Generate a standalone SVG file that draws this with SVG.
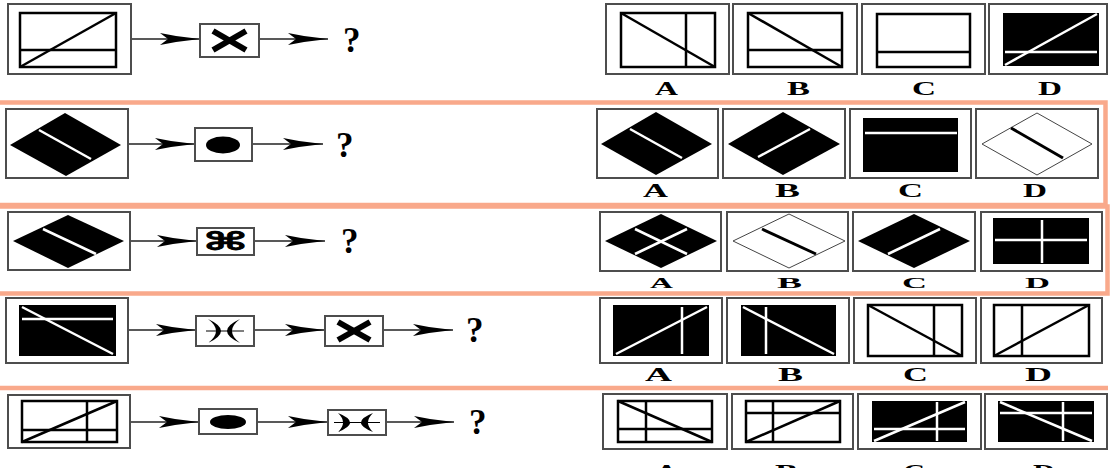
<svg xmlns="http://www.w3.org/2000/svg" width="1110" height="468" viewBox="0 0 1110 468">
<style>
.ob{fill:#fff;stroke:#4d4d4d;stroke-width:2}
.ib{fill:none;stroke:#000;stroke-width:2.5}
.bk{fill:#000}
.ln{stroke:#000;stroke-width:2.5;fill:none}
.wl{stroke:#fff;stroke-width:2.5;fill:none}
.od{fill:#fff;stroke:#444;stroke-width:1}
.cn{stroke:#222;stroke-width:1.5;marker-end:url(#arr)}
.q{font-family:"Liberation Serif",serif;font-weight:bold;font-size:35px;fill:#000}
.lb{font-family:"Liberation Serif",serif;font-weight:bold;font-size:19px;fill:#000}
.lbs{font-family:"Liberation Serif",serif;font-weight:bold;font-size:15px;fill:#000}
.fr{fill:none;stroke:#F9A98B;stroke-width:4.5}
.xs{stroke:#000;stroke-width:6}
.th{stroke:#000;stroke-width:1}
</style>
<defs>
<marker id="arr" viewBox="0 0 40 12" refX="40" refY="6" markerWidth="40" markerHeight="12" markerUnits="userSpaceOnUse" orient="auto">
<path d="M0,0 L16,3 L40,6 L16,9 L0,12 L8,6 Z" fill="#000"/>
</marker>
</defs>
<rect width="1110" height="468" fill="#fff"/>

<g id="frames">
<rect class="fr" x="-5" y="102.5" width="1110.5" height="102.5"/>
<rect class="fr" x="-5" y="206.5" width="1112.5" height="87"/>
<line class="fr" x1="0" y1="388" x2="1108" y2="388"/>
</g>

<g id="connectors">
<line class="cn" x1="131" y1="39" x2="200" y2="39"/>
<line class="cn" x1="259" y1="39" x2="328" y2="39"/>
<line class="cn" x1="128" y1="144" x2="195" y2="144"/>
<line class="cn" x1="252" y1="144" x2="323" y2="144"/>
<line class="cn" x1="130" y1="241" x2="197" y2="241"/>
<line class="cn" x1="254" y1="241" x2="325" y2="241"/>
<line class="cn" x1="128" y1="330" x2="196" y2="330"/>
<line class="cn" x1="254" y1="330" x2="325" y2="330"/>
<line class="cn" x1="383" y1="330" x2="453" y2="330"/>
<line class="cn" x1="130" y1="422" x2="199" y2="422"/>
<line class="cn" x1="257" y1="422" x2="328" y2="422"/>
<line class="cn" x1="386" y1="422" x2="454" y2="422"/>
</g>

<!-- Row 1 -->
<g id="r1-start">
<rect class="ob" x="8" y="4" width="123" height="70"/>
<rect class="ib" x="20" y="13" width="96" height="54"/>
<line class="ln" x1="20" y1="50" x2="116" y2="50"/>
<line class="ln" x1="20" y1="67" x2="116" y2="13"/>
</g>
<g id="r1-op1">
<rect class="ob" x="200" y="24" width="59" height="33"/>
<line class="xs" x1="213" y1="31" x2="246" y2="50"/>
<line class="xs" x1="213" y1="50" x2="246" y2="31"/>
</g>
<g id="r1-q"><text class="q" x="343" y="52">?</text></g>
<g id="r1-A">
<rect class="ob" x="606" y="4" width="123" height="70"/>
<rect class="ib" x="621" y="13" width="94" height="54"/>
<line class="ln" x1="686" y1="13" x2="686" y2="67"/>
<line class="ln" x1="621" y1="13" x2="715" y2="67"/>
<text class="lb" x="655" y="95" textLength="23" lengthAdjust="spacingAndGlyphs">A</text>
</g>
<g id="r1-B">
<rect class="ob" x="733" y="4" width="124" height="70"/>
<rect class="ib" x="748" y="13" width="94" height="54"/>
<line class="ln" x1="748" y1="50" x2="842" y2="50"/>
<line class="ln" x1="748" y1="13" x2="842" y2="67"/>
<text class="lb" x="787" y="95" textLength="23" lengthAdjust="spacingAndGlyphs">B</text>
</g>
<g id="r1-C">
<rect class="ob" x="862" y="4" width="123" height="70"/>
<rect class="ib" x="877" y="14" width="93" height="53"/>
<line class="ln" x1="877" y1="52" x2="970" y2="52"/>
<text class="lb" x="912" y="95" textLength="24" lengthAdjust="spacingAndGlyphs">C</text>
</g>
<g id="r1-D">
<rect class="ob" x="989" y="4" width="118" height="70"/>
<rect class="bk" x="1003" y="13" width="96" height="53"/>
<line class="wl" x1="1005" y1="52" x2="1097" y2="52"/>
<line class="wl" x1="1005" y1="65" x2="1097" y2="14"/>
<text class="lb" x="1038" y="95" textLength="24" lengthAdjust="spacingAndGlyphs">D</text>
</g>

<!-- Row 2 -->
<g id="r2-start">
<rect class="ob" x="6" y="109" width="122" height="69"/>
<polygon class="bk" points="10,145 65,113 121,145 66,176"/>
<line class="wl" x1="39" y1="130" x2="91" y2="159"/>
</g>
<g id="r2-op1">
<rect class="ob" x="195" y="128" width="57" height="33"/>
<ellipse class="bk" cx="223" cy="145" rx="17" ry="8.5"/>
</g>
<g id="r2-q"><text class="q" x="336" y="157">?</text></g>
<g id="r2-A">
<rect class="ob" x="597" y="109" width="121" height="69"/>
<polygon class="bk" points="601,144 656,112 712,144 656,175"/>
<line class="wl" x1="630" y1="129" x2="682" y2="158"/>
<text class="lb" x="643" y="197" textLength="25" lengthAdjust="spacingAndGlyphs">A</text>
</g>
<g id="r2-B">
<rect class="ob" x="723" y="109" width="122" height="69"/>
<polygon class="bk" points="728,144 783,112 840,144 783,175"/>
<line class="wl" x1="758" y1="157" x2="810" y2="129"/>
<text class="lb" x="775" y="197" textLength="25" lengthAdjust="spacingAndGlyphs">B</text>
</g>
<g id="r2-C">
<rect class="ob" x="850" y="109" width="121" height="69"/>
<rect class="bk" x="863" y="118" width="95" height="54"/>
<line class="wl" x1="865" y1="133" x2="957" y2="133"/>
<text class="lb" x="898" y="197" textLength="25" lengthAdjust="spacingAndGlyphs">C</text>
</g>
<g id="r2-D">
<rect class="ob" x="976" y="109" width="122" height="69"/>
<polygon class="od" points="982,144 1037,113 1092,144 1037,175"/>
<line class="ln" x1="1011" y1="128" x2="1063" y2="158" style="stroke-width:3"/>
<text class="lb" x="1023" y="197" textLength="24" lengthAdjust="spacingAndGlyphs">D</text>
</g>

<!-- Row 3 -->
<g id="r3-start">
<rect class="ob" x="8" y="212" width="122" height="58"/>
<polygon class="bk" points="13,241 68,215 124,241 68,268"/>
<line class="wl" x1="43" y1="229" x2="96" y2="254"/>
</g>
<g id="r3-op1">
<rect class="ob" x="197" y="228" width="57" height="27"/>
<text x="203" y="250" font-family="DejaVu Sans, sans-serif" font-weight="bold" font-size="25" textLength="45" lengthAdjust="spacingAndGlyphs" stroke="#000" stroke-width="0.8">⌘</text>
</g>
<g id="r3-q"><text class="q" x="341" y="253">?</text></g>
<g id="r3-A">
<rect class="ob" x="600" y="212" width="121" height="59"/>
<polygon class="bk" points="605,241 661,214 717,241 661,268"/>
<line class="wl" x1="635" y1="254" x2="687" y2="229"/>
<line class="wl" x1="635" y1="229" x2="687" y2="254"/>
<text class="lbs" x="650" y="288" textLength="23" lengthAdjust="spacingAndGlyphs">A</text>
</g>
<g id="r3-B">
<rect class="ob" x="727" y="212" width="121" height="59"/>
<polygon class="od" points="733,241 789,214 845,241 789,268"/>
<line class="ln" x1="762" y1="229" x2="816" y2="254" style="stroke-width:3"/>
<text class="lbs" x="777" y="288" textLength="25" lengthAdjust="spacingAndGlyphs">B</text>
</g>
<g id="r3-C">
<rect class="ob" x="853" y="212" width="122" height="59"/>
<polygon class="bk" points="858,241 914,214 970,241 914,268"/>
<line class="wl" x1="888" y1="254" x2="940" y2="229"/>
<text class="lbs" x="902" y="288" textLength="25" lengthAdjust="spacingAndGlyphs">C</text>
</g>
<g id="r3-D">
<rect class="ob" x="981" y="212" width="121" height="59"/>
<rect class="bk" x="993" y="218" width="96" height="46"/>
<line class="wl" x1="995" y1="240" x2="1087" y2="240"/>
<line class="wl" x1="1042" y1="220" x2="1042" y2="263"/>
<text class="lbs" x="1025" y="288" textLength="25" lengthAdjust="spacingAndGlyphs">D</text>
</g>

<!-- Row 4 -->
<g id="r4-start">
<rect class="ob" x="6" y="298" width="122" height="65"/>
<rect class="bk" x="19" y="305" width="97" height="51"/>
<line class="wl" x1="22" y1="319" x2="113" y2="319"/>
<line class="wl" x1="22" y1="307" x2="113" y2="354"/>
</g>
<g id="r4-op1">
<rect class="ob" x="196" y="316" width="58" height="30"/>
<line class="th" x1="206" y1="331" x2="244" y2="331"/>
<path class="bk" d="M208,319 Q234,331 208,343 Q224,331 208,319 Z"/>
<path class="bk" d="M240,319 Q214,331 240,343 Q224,331 240,319 Z"/>
</g>
<g id="r4-op2">
<rect class="ob" x="325" y="316" width="58" height="30"/>
<line class="xs" x1="338" y1="322" x2="370" y2="340"/>
<line class="xs" x1="338" y1="340" x2="370" y2="322"/>
</g>
<g id="r4-q"><text class="q" x="466" y="342">?</text></g>
<g id="r4-A">
<rect class="ob" x="600" y="298" width="122" height="65"/>
<rect class="bk" x="613" y="305" width="96" height="51"/>
<line class="wl" x1="682" y1="307" x2="682" y2="354"/>
<line class="wl" x1="616" y1="354" x2="707" y2="307"/>
<text class="lb" x="645" y="381" textLength="27" lengthAdjust="spacingAndGlyphs">A</text>
</g>
<g id="r4-B">
<rect class="ob" x="727" y="298" width="122" height="65"/>
<rect class="bk" x="741" y="305" width="95" height="51"/>
<line class="wl" x1="766" y1="307" x2="766" y2="354"/>
<line class="wl" x1="743" y1="307" x2="834" y2="354"/>
<text class="lb" x="778" y="381" textLength="25" lengthAdjust="spacingAndGlyphs">B</text>
</g>
<g id="r4-C">
<rect class="ob" x="854" y="298" width="122" height="65"/>
<rect class="ib" x="868" y="305" width="94" height="51"/>
<line class="ln" x1="934" y1="305" x2="934" y2="356"/>
<line class="ln" x1="868" y1="305" x2="962" y2="356"/>
<text class="lb" x="903" y="381" textLength="25" lengthAdjust="spacingAndGlyphs">C</text>
</g>
<g id="r4-D">
<rect class="ob" x="981" y="298" width="121" height="65"/>
<rect class="ib" x="994" y="305" width="95" height="51"/>
<line class="ln" x1="1022" y1="305" x2="1022" y2="356"/>
<line class="ln" x1="994" y1="356" x2="1089" y2="305"/>
<text class="lb" x="1025" y="381" textLength="27" lengthAdjust="spacingAndGlyphs">D</text>
</g>

<!-- Row 5 -->
<g id="r5-start">
<rect class="ob" x="8" y="395" width="122" height="53"/>
<rect class="ib" x="22" y="401" width="95" height="41"/>
<line class="ln" x1="22" y1="430" x2="117" y2="430"/>
<line class="ln" x1="87" y1="401" x2="87" y2="442"/>
<line class="ln" x1="22" y1="442" x2="117" y2="401"/>
</g>
<g id="r5-op1">
<rect class="ob" x="199" y="409" width="58" height="25"/>
<ellipse class="bk" cx="228" cy="422" rx="18" ry="7"/>
</g>
<g id="r5-op2">
<rect class="ob" x="328" y="410" width="58" height="25"/>
<line class="th" x1="334" y1="422.5" x2="380" y2="422.5"/>
<path class="bk" d="M338,413 Q362,422.5 338,432 Q348,422.5 338,413 Z"/>
<path class="bk" d="M373,413 Q349,422.5 373,432 Q363,422.5 373,413 Z"/>
</g>
<g id="r5-q"><text class="q" x="469" y="434">?</text></g>
<g id="r5-A">
<rect class="ob" x="603" y="394" width="124" height="55"/>
<rect class="ib" x="618" y="401" width="94" height="41"/>
<line class="ln" x1="618" y1="429" x2="712" y2="429"/>
<line class="ln" x1="646" y1="401" x2="646" y2="442"/>
<line class="ln" x1="618" y1="401" x2="712" y2="442"/>
<text class="lb" x="655" y="478" textLength="23" lengthAdjust="spacingAndGlyphs">A</text>
</g>
<g id="r5-B">
<rect class="ob" x="732" y="394" width="121" height="55"/>
<rect class="ib" x="746" y="401" width="94" height="41"/>
<line class="ln" x1="746" y1="413" x2="840" y2="413"/>
<line class="ln" x1="773" y1="401" x2="773" y2="442"/>
<line class="ln" x1="746" y1="442" x2="840" y2="401"/>
<text class="lb" x="775" y="478" textLength="23" lengthAdjust="spacingAndGlyphs">B</text>
</g>
<g id="r5-C">
<rect class="ob" x="858" y="394" width="123" height="55"/>
<rect class="bk" x="872" y="401" width="95" height="41"/>
<line class="wl" x1="874" y1="429" x2="965" y2="429"/>
<line class="wl" x1="937" y1="402" x2="937" y2="441"/>
<line class="wl" x1="874" y1="441" x2="965" y2="402"/>
<text class="lb" x="903" y="478" textLength="22" lengthAdjust="spacingAndGlyphs">C</text>
</g>
<g id="r5-D">
<rect class="ob" x="985" y="394" width="122" height="55"/>
<rect class="bk" x="998" y="401" width="96" height="41"/>
<line class="wl" x1="1000" y1="413" x2="1092" y2="413"/>
<line class="wl" x1="1063" y1="402" x2="1063" y2="441"/>
<line class="wl" x1="1000" y1="402" x2="1092" y2="441"/>
<text class="lb" x="1033" y="478" textLength="22" lengthAdjust="spacingAndGlyphs">D</text>
</g>
</svg>
